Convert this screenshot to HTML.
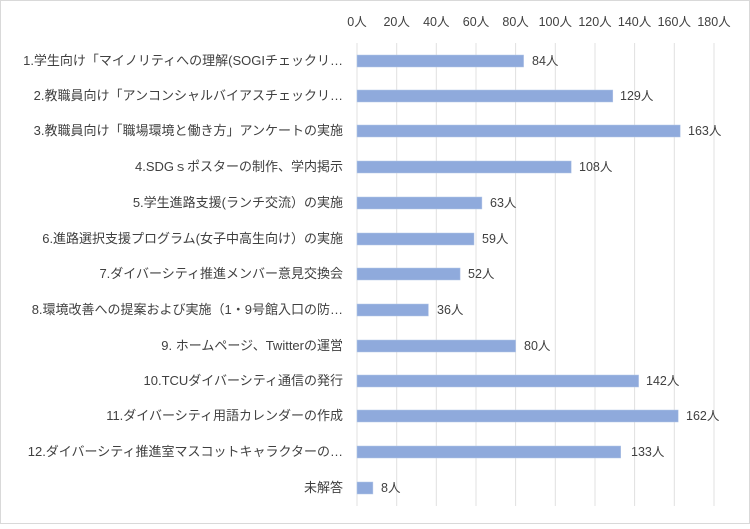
<!DOCTYPE html><html><head><meta charset="utf-8"><style>
body{margin:0;background:#fff}
</style></head><body>
<svg width="750" height="524" xmlns="http://www.w3.org/2000/svg" font-family="'Liberation Sans','Noto Sans CJK JP',sans-serif" font-size="12.5" fill="#404040">
<rect x="0.5" y="0.5" width="749" height="523" fill="#fff" stroke="#d9d9d9"/>
<g stroke="#e0e0e0" stroke-width="1">
<line x1="357" y1="43" x2="357" y2="506"/><line x1="396.7" y1="43" x2="396.7" y2="506"/><line x1="436.3" y1="43" x2="436.3" y2="506"/><line x1="476" y1="43" x2="476" y2="506"/><line x1="515.6" y1="43" x2="515.6" y2="506"/><line x1="555.3" y1="43" x2="555.3" y2="506"/><line x1="595" y1="43" x2="595" y2="506"/><line x1="634.6" y1="43" x2="634.6" y2="506"/><line x1="674.3" y1="43" x2="674.3" y2="506"/><line x1="714" y1="43" x2="714" y2="506"/>
</g>
<g text-anchor="middle">
<text x="357" y="26">0人</text><text x="396.7" y="26">20人</text><text x="436.3" y="26">40人</text><text x="476" y="26">60人</text><text x="515.6" y="26">80人</text><text x="555.3" y="26">100人</text><text x="595" y="26">120人</text><text x="634.6" y="26">140人</text><text x="674.3" y="26">160人</text><text x="714" y="26">180人</text>
</g>
<g fill="#8faadc" stroke="#b4c7e7" stroke-width="0.5">
<rect x="357" y="55" width="166.6" height="12"/>
<rect x="357" y="90" width="255.8" height="12"/>
<rect x="357" y="125" width="323.2" height="12"/>
<rect x="357" y="161" width="214.2" height="12"/>
<rect x="357" y="197" width="124.9" height="12"/>
<rect x="357" y="233" width="117" height="12"/>
<rect x="357" y="268" width="103.1" height="12"/>
<rect x="357" y="304" width="71.4" height="12"/>
<rect x="357" y="340" width="158.6" height="12"/>
<rect x="357" y="375" width="281.6" height="12"/>
<rect x="357" y="410" width="321.2" height="12"/>
<rect x="357" y="446" width="263.7" height="12"/>
<rect x="357" y="482" width="15.9" height="12"/>
</g>
<g>
<text x="532" y="65">84人</text><text x="620" y="100">129人</text><text x="688" y="135">163人</text><text x="579" y="171">108人</text><text x="490" y="207">63人</text><text x="482" y="243">59人</text><text x="468" y="278">52人</text><text x="437" y="314">36人</text><text x="524" y="350">80人</text><text x="646" y="385">142人</text><text x="686" y="420">162人</text><text x="631" y="456">133人</text><text x="381" y="492">8人</text>
</g>
<g text-anchor="end" font-size="13">
<text x="343" y="65">1.学生向け「マイノリティへの理解(SOGIチェックリ…</text>
<text x="343" y="100">2.教職員向け「アンコンシャルバイアスチェックリ…</text>
<text x="343" y="135">3.教職員向け「職場環境と働き方」アンケートの実施</text>
<text x="343" y="171">4.SDGｓポスターの制作、学内掲示</text>
<text x="343" y="207">5.学生進路支援(ランチ交流）の実施</text>
<text x="343" y="243">6.進路選択支援プログラム(女子中高生向け）の実施</text>
<text x="343" y="278">7.ダイバーシティ推進メンバー意見交換会</text>
<text x="343" y="314">8.環境改善への提案および実施（1・9号館入口の防…</text>
<text x="343" y="350">9. ホームページ、Twitterの運営</text>
<text x="343" y="385">10.TCUダイバーシティ通信の発行</text>
<text x="343" y="420">11.ダイバーシティ用語カレンダーの作成</text>
<text x="343" y="456">12.ダイバーシティ推進室マスコットキャラクターの…</text>
<text x="343" y="492">未解答</text>
</g>
</svg>
</body></html>
